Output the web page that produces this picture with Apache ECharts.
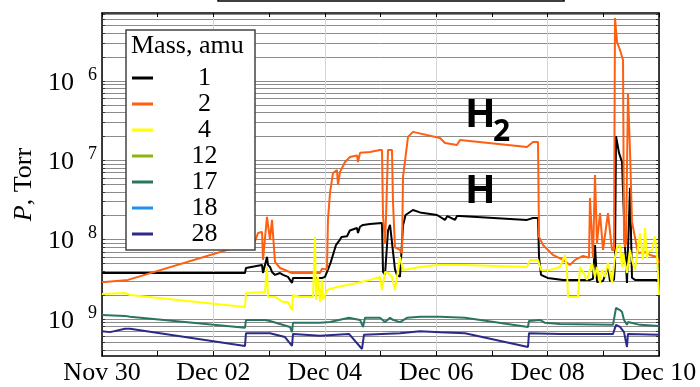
<!DOCTYPE html>
<html>
<head>
<meta charset="utf-8">
<script src="https://cdn.jsdelivr.net/npm/echarts@6/dist/echarts.min.js"></script>
<style>
html, body { margin: 0; padding: 0; background: #fff; }
#chart { width: 700px; height: 387px; }
</style>
</head>
<body>
<div id="chart"></div>
<script>
// x = days since Nov 30 00:00, y = pressure in Torr
const dateLabels = ['Nov 30', 'Dec 02', 'Dec 04', 'Dec 06', 'Dec 08', 'Dec 10'];
const massNames = ['1', '2', '4', '12', '17', '18', '28'];
const massColors = ['#000000', '#ff5f10', '#ffff00', '#8db510', '#2a7562', '#1e90f0', '#2b2a88'];

const mass1 = [
  [0, 3.79e-9], [2.567, 3.79e-9], [2.585, 4.38e-9], [2.75, 4.6e-9], [2.873, 4.79e-9], [2.89, 3.79e-9],
  [2.962, 6.04e-9], [2.98, 4.79e-9], [3.016, 4.51e-9], [3.052, 3.9e-9], [3.106, 3.58e-9], [3.196, 3.79e-9],
  [3.25, 3.58e-9], [3.339, 3.38e-9], [3.411, 2.84e-9], [3.429, 3.28e-9], [3.6, 3.28e-9], [3.95, 3.28e-9],
  [4.004, 3.38e-9], [4.1, 5e-9], [4.2, 8.5e-9], [4.273, 1.0e-8], [4.3, 1.08e-8], [4.399, 1.1e-8],
  [4.45, 1.3e-8], [4.578, 1.4e-8], [4.596, 1.21e-8], [4.632, 1.45e-8], [4.686, 1.53e-8], [4.811, 1.57e-8],
  [5.027, 1.62e-8], [5.045, 3.9e-9], [5.081, 3.6e-9], [5.135, 1.3e-8], [5.171, 1.53e-8], [5.206, 1.45e-8],
  [5.26, 4.2e-9], [5.296, 3.58e-9], [5.35, 3.4e-9], [5.404, 1.5e-8], [5.45, 2.04e-8], [5.583, 2.36e-8],
  [5.709, 2.2e-8], [6.014, 2.04e-8], [6.158, 1.77e-8], [6.2, 1.98e-8], [6.338, 1.77e-8], [6.373, 1.98e-8],
  [6.427, 1.98e-8], [7.63, 1.77e-8], [7.738, 1.87e-8], [7.828, 1.87e-8], [7.846, 6e-9], [7.882, 3.58e-9],
  [8.0, 3.28e-9], [8.276, 3.1e-9], [8.761, 3.1e-9], [8.815, 3.2e-9], [8.851, 8.55e-9], [8.887, 2.92e-9],
  [8.995, 3.0e-9], [9.084, 4.51e-9], [9.12, 3.0e-9], [9.192, 3.1e-9], [9.21, 5e-9], [9.228, 2.02e-7],
  [9.282, 1.24e-7], [9.336, 9.5e-8], [9.39, 8.07e-9], [9.425, 2.84e-9], [9.479, 4.5e-8], [9.515, 3.3e-9],
  [9.569, 3.1e-9], [10, 3.1e-9]
];

const mass2 = [
  [0, 2.92e-9], [0.054, 2.92e-9], [0.467, 3.1e-9], [2.657, 9.06e-9], [2.747, 9.5e-9], [2.801, 1.21e-8],
  [2.873, 1.25e-8], [2.89, 5.53e-9], [2.962, 1.93e-8], [3.016, 1.0e-8], [3.052, 1.77e-8], [3.106, 5.22e-9],
  [3.196, 4.38e-9], [3.411, 3.79e-9], [3.914, 3.79e-9], [3.95, 4.3e-9], [4.039, 4.2e-9], [4.057, 1.77e-8],
  [4.093, 3.87e-8], [4.147, 6.92e-8], [4.219, 7.55e-8], [4.237, 4.89e-8], [4.273, 7.13e-8], [4.363, 9.5e-8],
  [4.452, 1.1e-7], [4.578, 1.15e-7], [4.596, 9.5e-8], [4.632, 1.24e-7], [4.811, 1.27e-7], [4.991, 1.35e-7],
  [5.027, 1.35e-7], [5.045, 2e-8], [5.081, 9.06e-9], [5.1, 2e-8], [5.135, 1.35e-7], [5.206, 1.35e-7],
  [5.224, 3e-8], [5.26, 8e-9], [5.35, 7.4e-9], [5.386, 6.78e-9], [5.404, 6.16e-8], [5.494, 1.97e-7],
  [5.583, 2.28e-7], [6.068, 1.91e-7], [6.158, 1.65e-7], [6.373, 1.56e-7], [6.427, 1.8e-7], [7.63, 1.47e-7],
  [7.738, 1.7e-7], [7.828, 1.7e-7], [7.846, 1.08e-8], [7.917, 8.55e-9], [8.097, 6.4e-9], [8.276, 5.53e-9],
  [8.402, 4.79e-9], [8.492, 5.53e-9], [8.636, 6.21e-9], [8.743, 5.9e-9], [8.761, 3.35e-8], [8.815, 5.86e-9],
  [8.851, 6.53e-8], [8.887, 9.06e-9], [8.941, 2.16e-8], [8.995, 7.4e-9], [9.084, 2.16e-8], [9.156, 7.4e-9],
  [9.192, 7.4e-9], [9.21, 6.23e-6], [9.246, 3.1e-6], [9.3, 2.46e-6], [9.354, 1.84e-6], [9.372, 1e-8],
  [9.39, 8.07e-9], [9.408, 9e-9], [9.443, 7.06e-7], [9.479, 1.35e-7], [9.515, 1.67e-8], [9.623, 6.78e-9],
  [9.749, 6.98e-9], [9.838, 6.4e-9], [9.964, 6.04e-9], [10, 5.07e-9]
];

const mass4 = [
  [0, 2.06e-9], [0.413, 2.12e-9], [0.503, 2.0e-9], [2.567, 1.41e-9], [2.585, 2.12e-9], [2.926, 2.18e-9],
  [2.962, 4.51e-9], [2.98, 1.89e-9], [3.106, 1.89e-9], [3.25, 1.63e-9], [3.339, 1.63e-9], [3.411, 1.29e-9],
  [3.429, 2.0e-9], [3.555, 1.89e-9], [3.788, 1.89e-9], [3.824, 1.08e-8], [3.842, 1.73e-9], [3.878, 3.38e-9],
  [3.914, 1.63e-9], [3.95, 3.1e-9], [3.968, 1.73e-9], [4.039, 2.31e-9], [4.219, 2.52e-9], [4.578, 2.84e-9],
  [4.811, 3.1e-9], [4.991, 3.38e-9], [5.027, 2.31e-9], [5.081, 3.9e-9], [5.135, 3.79e-9], [5.206, 3.38e-9],
  [5.26, 2.31e-9], [5.35, 6.04e-9], [5.404, 4.14e-9], [5.709, 4.51e-9], [6.014, 4.79e-9], [6.517, 4.79e-9],
  [7.63, 4.51e-9], [7.684, 5.53e-9], [7.828, 5.53e-9], [7.882, 4.14e-9], [8.043, 4.14e-9], [8.223, 4.51e-9],
  [8.312, 6.4e-9], [8.348, 4.14e-9], [8.366, 1.89e-9], [8.546, 1.89e-9], [8.582, 4.51e-9], [8.636, 3.9e-9],
  [8.707, 3.1e-9], [8.797, 5.07e-9], [8.851, 3.38e-9], [8.887, 4.51e-9], [8.941, 2.84e-9], [8.977, 4.14e-9],
  [9.031, 3.38e-9], [9.084, 5.07e-9], [9.156, 2.84e-9], [9.21, 6.04e-9], [9.246, 8.07e-9], [9.3, 8.55e-9],
  [9.336, 4.51e-9], [9.354, 6.78e-9], [9.425, 3.79e-9], [9.479, 7.4e-9], [9.515, 5.53e-9], [9.569, 4.14e-9],
  [9.659, 1.2e-8], [9.713, 5.53e-9], [9.749, 1.4e-8], [9.785, 5.86e-9], [9.803, 6.98e-9], [9.874, 7.4e-9],
  [9.928, 1.1e-8], [9.964, 6.4e-9], [10, 2.0e-9]
];

const mass12 = [];

const mass17 = [
  [0, 1.12e-9], [0.413, 1.09e-9], [0.503, 1.06e-9], [2.567, 7.7e-10], [2.585, 9.7e-10], [2.926, 9.7e-10],
  [3.016, 9.4e-10], [3.375, 7.9e-10], [3.411, 6.8e-10], [3.429, 8.9e-10], [3.914, 8.9e-10], [4.093, 9.1e-10],
  [4.434, 1.03e-9], [4.632, 9.7e-10], [4.686, 7.9e-10], [4.722, 1.03e-9], [4.991, 1.03e-9], [5.081, 9.1e-10],
  [5.171, 1.03e-9], [5.224, 9.7e-10], [5.35, 9.1e-10], [5.476, 1.03e-9], [5.709, 1.06e-9], [6.068, 1.06e-9],
  [6.517, 1.03e-9], [7.648, 7.9e-10], [7.666, 9.4e-10], [7.864, 9.7e-10], [7.953, 8.9e-10], [8.223, 8.6e-10],
  [9.174, 8.4e-10], [9.228, 1.37e-9], [9.3, 1.29e-9], [9.336, 1.22e-9], [9.372, 9.7e-10], [9.425, 8.4e-10],
  [9.443, 9.1e-10], [9.659, 8.4e-10], [10, 8.1e-10]
];

const mass18 = [];

const mass28 = [
  [0, 7.0e-10], [0.144, 6.8e-10], [0.413, 7.5e-10], [0.503, 7.5e-10], [2.567, 4.55e-10], [2.585, 6.6e-10],
  [3.016, 6.6e-10], [3.285, 5.9e-10], [3.411, 4.55e-10], [3.429, 6.45e-10], [3.914, 6.1e-10], [4.434, 6.45e-10],
  [4.452, 6.1e-10], [4.668, 4.17e-10], [4.704, 6.3e-10], [5.35, 6.6e-10], [5.709, 7.0e-10], [6.068, 6.8e-10],
  [6.517, 6.6e-10], [7.648, 4.42e-10], [7.666, 6.6e-10], [8.223, 6.45e-10], [9.174, 6.45e-10], [9.228, 8.4e-10],
  [9.3, 7.9e-10], [9.372, 6.8e-10], [9.425, 4.42e-10], [9.443, 6.45e-10], [10, 6.3e-10]
];

const massData = [mass1, mass2, mass4, mass12, mass17, mass18, mass28];

// y ticks: decades get labels, 1..9 x each decade get grid lines
const decadeTicks = [1e-9, 1e-8, 1e-7, 1e-6];
const gridTicks = [];
for (let e = -10; e <= -6; e++) {
  for (let k = 1; k <= 9; k++) gridTicks.push(k * Math.pow(10, e));
}

const serif = 'Liberation Serif';
const myChart = echarts.init(document.getElementById('chart'));

const option = {
  animation: false,
  backgroundColor: '#fff',
  grid: { left: 102, right: 41, top: 13, bottom: 31, containLabel: false, outerBoundsMode: 'none' },
  title: {
    text: 'Mass, amu',
    left: 131, top: 33, padding: 0,
    textStyle: { fontFamily: serif, fontSize: 26, fontWeight: 'normal', color: '#000' },
    z: 10
  },
  legend: {
    orient: 'vertical',
    left: 126, top: 30,
    padding: [35, 4, 3, 6],
    itemGap: 0,
    itemWidth: 21, itemHeight: 3,
    icon: 'rect',
    selectedMode: false,
    backgroundColor: '#fff',
    borderColor: '#444', borderWidth: 1.5, borderRadius: 0,
    data: massNames,
    formatter: name => '{c|' + name + '}',
    textStyle: {
      color: '#000',
      rich: { c: { width: 93, align: 'center', fontFamily: serif, fontSize: 26, lineHeight: 25, color: '#000' } }
    }
  },
  xAxis: [
    {
      type: 'value', min: 0, max: 10, interval: 2,
      axisLine: { show: true, onZero: false, lineStyle: { color: '#000', width: 1.5 } },
      axisTick: { show: true, inside: true, length: 5, lineStyle: { color: '#000' } },
      minorTick: { show: true, splitNumber: 2, length: 5, lineStyle: { color: '#000' } },
      splitLine: { show: true, lineStyle: { color: '#d4d4d4', width: 1 } },
      axisLabel: {
        show: true, margin: 4, showMinLabel: true, showMaxLabel: true,
        fontFamily: serif, fontSize: 26, color: '#000',
        formatter: v => dateLabels[Math.round(v / 2)]
      }
    },
    {
      type: 'value', min: 0, max: 10, interval: 2, position: 'top',
      axisLine: { show: true, onZero: false, lineStyle: { color: '#000', width: 1.5 } },
      axisTick: { show: true, inside: true, length: 4, lineStyle: { color: '#000' } },
      minorTick: { show: true, splitNumber: 2, length: 4, lineStyle: { color: '#000' } },
      splitLine: { show: false },
      axisLabel: { show: false }
    }
  ],
  yAxis: [
    {
      type: 'log', logBase: 10, min: 3.4e-10, max: 7.2e-6,
      name: '{i|P}, Torr',
      nameLocation: 'middle', nameGap: 64,
      nameTextStyle: {
        fontFamily: serif, fontSize: 26, color: '#000',
        rich: { i: { fontFamily: serif, fontSize: 26, fontStyle: 'italic', color: '#000' } }
      },
      axisLine: { show: true, onZero: false, lineStyle: { color: '#000', width: 1.5 } },
      axisTick: { show: true, inside: true, length: 3, customValues: gridTicks, lineStyle: { color: '#333' } },
      splitLine: { show: true, lineStyle: { color: '#8c8c8c', width: 1 } },
      axisLabel: {
        show: true, margin: 5, customValues: decadeTicks,
        formatter: v => '{b|10}{s|' + Math.round(-Math.log10(v)) + '}',
        rich: {
          b: { fontFamily: serif, fontSize: 26, color: '#000', lineHeight: 30, verticalAlign: 'bottom' },
          s: { fontFamily: serif, fontSize: 18, color: '#000', padding: [0, 0, 0, 14], lineHeight: 30, verticalAlign: 'top' }
        }
      }
    },
    {
      type: 'log', logBase: 10, min: 3.4e-10, max: 7.2e-6, position: 'right',
      axisLine: { show: true, onZero: false, lineStyle: { color: '#000', width: 1.5 } },
      axisTick: { show: true, inside: true, length: 3, customValues: gridTicks, lineStyle: { color: '#333' } },
      splitLine: { show: false },
      axisLabel: { show: false }
    }
  ],
  graphic: [
    {
      type: 'rect', z: 100,
      shape: { x: 218, y: -10, width: 346, height: 11 },
      style: { fill: '#fff', stroke: '#000', lineWidth: 1.5 }
    },
    {
      type: 'text', z: 100, x: 465, y: 116,
      style: { text: 'H', fontFamily: 'Open Sans', fontWeight: 'bold', fontSize: 40, fill: '#000', verticalAlign: 'middle' }
    },
    {
      type: 'text', z: 100, x: 493, y: 132,
      style: { text: '2', fontFamily: 'Open Sans', fontWeight: 'bold', fontSize: 30, fill: '#000', verticalAlign: 'middle' }
    },
    {
      type: 'text', z: 100, x: 465, y: 192,
      style: { text: 'H', fontFamily: 'Open Sans', fontWeight: 'bold', fontSize: 40, fill: '#000', verticalAlign: 'middle' }
    }
  ],
  series: massNames.map((name, i) => ({
    name: name,
    type: 'line',
    xAxisIndex: 0,
    yAxisIndex: 0,
    showSymbol: false,
    symbol: 'none',
    color: massColors[i],
    lineStyle: { color: massColors[i], width: 2 },
    data: massData[i]
  }))
};

myChart.setOption(option);
</script>
</body>
</html>
